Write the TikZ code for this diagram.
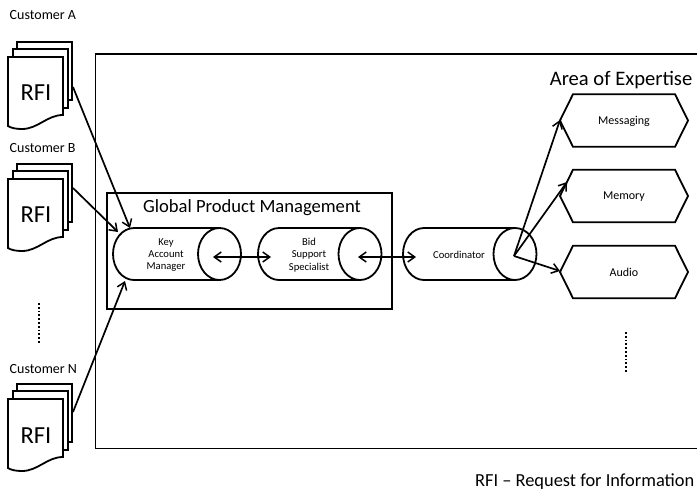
\documentclass[tikz,border=0pt]{standalone}
\usepackage{fontspec}
\setmainfont{Carlito}
\usetikzlibrary{arrows.meta}
\tikzset{
  ln/.style={draw=black,line width=1.8pt,line join=miter},
  arw/.style={draw=black,line width=1.7pt,-{Straight Barb[length=7pt,width=10pt,line width=1.5pt]}},
  darw/.style={draw=black,line width=1.7pt,{Straight Barb[length=7pt,width=10pt,line width=1.5pt]}-{Straight Barb[length=7pt,width=10pt,line width=1.5pt]}},
  dots/.style={draw=black,line width=1.8pt,dash pattern=on 1.8pt off 2pt},
  small/.style={font=\fontsize{14}{16}\selectfont,inner sep=0pt},
  tiny/.style={font=\fontsize{10.6}{12.4}\selectfont,inner sep=0pt,align=center},
  hextxt/.style={font=\fontsize{12}{14}\selectfont,inner sep=0pt},
  big/.style={font=\fontsize{20.6}{22}\selectfont,inner sep=0pt},
  gpm/.style={font=\fontsize{18.6}{20}\selectfont,inner sep=0pt},
  rfi/.style={font=\fontsize{24.5}{27}\selectfont,inner sep=0pt},
  doc/.pic={
    \path[ln,fill=white] (17,42) -- (72,42) -- (72,100) -- (17,100) -- cycle;
    \path[ln,fill=white] (13,49) -- (68,49) -- (68,108) -- (13,108) -- cycle;
    \path[ln,fill=white] (8,57) -- (63,57) -- (63,115)
      .. controls (47,115) and (38,129) .. (22,129)
      .. controls (16,129) and (11,128) .. (8,126) -- cycle;
  },
  hexa/.pic={
    \path[ln,fill=white] (560,0) -- (573,-26.3) -- (675,-26.3) -- (688,0) -- (675,26.3) -- (573,26.3) -- cycle;
  }
}
\newcommand{\cyl}[2]{% cx of left end, cx of ellipse
  \path[ln,fill=white] (#1,228) arc[start angle=90,end angle=270,x radius=21pt,y radius=26pt]
     -- (#2,280) arc[start angle=270,end angle=450,x radius=21.5pt,y radius=26pt] -- cycle;
  \path[ln] (#2,228) arc[start angle=90,end angle=270,x radius=21.5pt,y radius=26pt];
}
\begin{document}
\begin{tikzpicture}[x=1pt,y=-1pt]
\useasboundingbox (0,0) rectangle (697,490);
% frame
\path[ln] (699,54) -- (95.5,54) -- (95.5,448.5) -- (699,448.5);
\node[big,anchor=base east] (areatitle) at (692.5,85) {Area of Expertise};
% group
\path[ln,fill=white] (107,193) rectangle (392,309);
\node[gpm] (gpmtitle) at (252,208) {Global Product Management};
% cylinders
\cyl{134}{219.5}
\cyl{279}{360}
\cyl{424}{515}
\node[tiny] (kam) at (166,255) {Key\\Account\\Manager};
\node[tiny] (bid) at (309,255) {Bid\\Support\\Specialist};
\node[tiny] (coord) at (459,255) {Coordinator};
% hexagons
\pic at (0,120.5) {hexa};
\pic at (0,196) {hexa};
\pic at (0,272) {hexa};
\node[hextxt] (msg) at (624,121) {Messaging};
\node[hextxt] (mem) at (624,197) {Memory};
\node[hextxt] (aud) at (624,272) {Audio};
% documents
\pic at (0,0) {doc};
\pic at (0,122) {doc};
\pic at (0,342) {doc};
\node[rfi] (rfia) at (36,93) {RFI};
\node[rfi] (rfib) at (36,215) {RFI};
\node[rfi] (rfin) at (36,436) {RFI};
\node[small,anchor=base west] (ca) at (9.5,19) {Customer A};
\node[small,anchor=base west] (cb) at (9.5,152) {Customer B};
\node[small,anchor=base west] (cn) at (9.5,373) {Customer N};
% coordinates
\coordinate (docA) at (73,87);
\coordinate (docB) at (73,188);
\coordinate (docN) at (73,412);
\coordinate (kamA) at (130,228);
\coordinate (kamB) at (118,232);
\coordinate (kamN) at (125,281);
\coordinate (kamR) at (213,257);
\coordinate (bidL) at (271,257);
\coordinate (bidR) at (358,257);
\coordinate (coL) at (416,257);
\coordinate (coR) at (514,256);
\coordinate (msgL) at (560,120);
\coordinate (memL) at (567,182);
\coordinate (audL) at (560,271);
\draw[arw] (docA) -- (kamA);
\draw[arw] (docB) -- (kamB);
\draw[arw] (docN) -- (kamN);
\draw[darw] (kamR) -- (bidL);
\draw[darw] (bidR) -- (coL);
\draw[arw] (coR) -- (msgL);
\draw[arw] (coR) -- (memL);
\draw[arw] (coR) -- (audL);
% dots
\coordinate (d1a) at (39,303); \coordinate (d1b) at (39,344);
\coordinate (d2a) at (626,332); \coordinate (d2b) at (626,373);
\draw[dots] (d1a) -- (d1b);
\draw[dots] (d2a) -- (d2b);
\node[font=\fontsize{18.4}{20}\selectfont,inner sep=0pt,anchor=base east] (legend) at (694.5,486) {RFI – Request for Information};
\end{tikzpicture}
\end{document}
